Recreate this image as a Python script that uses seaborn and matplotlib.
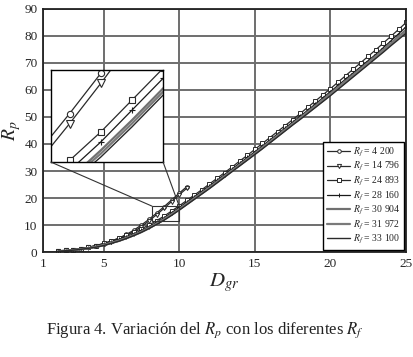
import matplotlib
matplotlib.use("Agg")
import matplotlib.pyplot as plt
import seaborn as sns
from matplotlib.patches import Rectangle, ConnectionPatch

# ==========================================================
# Data
# ==========================================================

d_gr_short = [2.0, 2.5, 3.0, 3.5, 4.0, 4.5, 5.0, 5.5, 6.0, 6.5, 7.0, 7.5,
              8.0, 8.5, 9.0, 9.5, 10.0, 10.5]

d_gr_long = [2.0, 2.5, 3.0, 3.5, 4.0, 4.5, 5.0, 5.5, 6.0, 6.5, 7.0, 7.5,
             8.0, 8.5, 9.0, 9.5, 10.0, 10.5, 11.0, 11.5, 12.0, 12.5, 13.0,
             13.5, 14.0, 14.5, 15.0, 15.5, 16.0, 16.5, 17.0, 17.5, 18.0,
             18.5, 19.0, 19.5, 20.0, 20.5, 21.0, 21.5, 22.0, 22.5, 23.0,
             23.5, 24.0, 24.5, 25.0]

rp_4200 = [0.3, 0.6, 0.9, 1.3, 1.8, 2.4, 3.1, 4.0, 5.1, 6.5, 8.1, 10.0,
           12.1, 14.4, 16.8, 19.3, 21.8, 24.2]

rp_14796 = [0.3, 0.6, 0.9, 1.3, 1.7, 2.3, 3.0, 3.8, 4.8, 6.1, 7.6, 9.4,
            11.5, 13.8, 16.2, 18.7, 21.2, 23.6]

rp_24893 = [0.3, 0.6, 0.9, 1.3, 1.8, 2.4, 3.2, 4.1, 5.1, 6.2, 7.4, 8.6,
            10.0, 11.6, 13.3, 15.2, 17.1, 19.1, 21.1, 23.1, 25.2, 27.3, 29.4,
            31.5, 33.7, 35.8, 38.0, 40.2, 42.4, 44.6, 46.8, 49.0, 51.3,
            53.6, 55.9, 58.2, 60.5, 62.9, 65.3, 67.7, 70.1, 72.5, 74.9,
            77.4, 79.9, 82.4, 85.0]

rp_28160 = [0.3, 0.5, 0.8, 1.2, 1.6, 2.2, 3.0, 3.8, 4.7, 5.7, 6.8, 8.0,
            9.4, 11.0, 12.7, 14.6, 16.5, 18.5, 20.5, 22.5, 24.5, 26.6, 28.7,
            30.8, 32.9, 35.0, 37.1, 39.3, 41.5, 43.7, 45.9, 48.1, 50.3,
            52.5, 54.8, 57.1, 59.4, 61.7, 64.0, 66.3, 68.6, 70.9, 73.2,
            75.7, 78.2, 80.8, 83.4]

rp_30904 = [0.3, 0.5, 0.7, 1.0, 1.4, 1.9, 2.6, 3.4, 4.2, 5.2, 6.3, 7.5,
            8.9, 10.5, 12.2, 14.0, 15.9, 17.9, 19.9, 21.9, 23.9, 26.0, 28.1,
            30.2, 32.3, 34.4, 36.5, 38.7, 40.9, 43.1, 45.3, 47.5, 49.7,
            51.9, 54.1, 56.4, 58.7, 61.0, 63.3, 65.6, 67.9, 70.2, 72.5,
            74.9, 77.3, 79.8, 82.3]

rp_31972 = [0.3, 0.5, 0.7, 1.0, 1.4, 1.9, 2.5, 3.3, 4.1, 5.1, 6.2, 7.4,
            8.8, 10.4, 12.0, 13.8, 15.7, 17.7, 19.7, 21.7, 23.7, 25.8, 27.9,
            30.0, 32.1, 34.2, 36.3, 38.5, 40.7, 42.9, 45.1, 47.3, 49.4,
            51.6, 53.8, 56.0, 58.3, 60.6, 62.9, 65.2, 67.5, 69.8, 72.1,
            74.5, 76.9, 79.3, 81.7]

rp_33100 = [0.3, 0.5, 0.7, 1.0, 1.4, 1.8, 2.4, 3.2, 4.0, 5.0, 6.1, 7.3,
            8.7, 10.2, 11.8, 13.6, 15.5, 17.5, 19.5, 21.5, 23.5, 25.6, 27.7,
            29.8, 31.9, 34.0, 36.1, 38.2, 40.4, 42.6, 44.8, 47.0, 49.1,
            51.3, 53.5, 55.7, 57.9, 60.2, 62.5, 64.8, 67.1, 69.4, 71.7,
            74.0, 76.4, 78.7, 81.0]

rf_labels = ["4 200", "14 796", "24 893", "28 160", "30 904", "31 972", "33 100"]

x_ticks = [1, 5, 10, 15, 20, 25]
y_ticks = [0, 10, 20, 30, 40, 50, 60, 70, 80, 90]

# zoom window shown in the inset
zoom_x = (8.2, 10.0)
zoom_y = (11.5, 17.0)

# ==========================================================
# Style
# ==========================================================

sns.set_theme(style="white")
plt.rcParams['font.family'] = ['Liberation Serif', 'DejaVu Serif']
plt.rcParams['mathtext.fontset'] = 'stix'

# (x, y, marker, main size, inset size, color, linewidth)
series = [
    (d_gr_short, rp_4200, "o", 2.6, 4.5, "#2a2a2a", 0.9),
    (d_gr_short, rp_14796, "v", 3.0, 5.5, "#2a2a2a", 0.9),
    (d_gr_long, rp_24893, "s", 2.6, 5.0, "#2a2a2a", 0.9),
    (d_gr_long, rp_28160, "+", 3.0, 4.0, "#1a1a1a", 0.9),
    (d_gr_long, rp_30904, "", 0, 0, "#707070", 1.6),
    (d_gr_long, rp_31972, "", 0, 0, "#7a7a7a", 1.6),
    (d_gr_long, rp_33100, "", 0, 0, "#2a2a2a", 1.0),
]

fig = plt.figure(figsize=(4.14, 3.57), dpi=100)
ax = fig.add_axes([0.104, 0.294, 0.877, 0.681])

for (xs, ys, mk, ms, ms_in, col, lw), lab in zip(series, rf_labels):
    sns.lineplot(
        x=xs, y=ys, ax=ax, sort=False, estimator=None,
        marker=mk if mk else None, markersize=ms,
        markerfacecolor="white", markeredgecolor=col, mew=0.7,
        color=col, lw=lw, label=r"$R_f$ = " + lab
    )

ax.set_xlim(1, 25)
ax.set_ylim(0, 90)
ax.set_xticks(x_ticks)
ax.set_yticks(y_ticks)
ax.grid(True, color="#6e6e6e", lw=1.4)
ax.set_axisbelow(True)
ax.tick_params(length=0, labelsize=9.5, pad=4)

for sp in ax.spines.values():
    sp.set_color("#222222")
    sp.set_linewidth(1.3)

ax.set_xlabel(r"$D_{gr}$", fontsize=15, labelpad=1)
ax.set_ylabel(r"$R_p$", fontsize=14, labelpad=1)

leg = ax.legend(
    loc="lower right", fontsize=7, frameon=True, fancybox=False,
    edgecolor="black", framealpha=1, handlelength=2.4,
    labelspacing=0.15, borderpad=0.35, handletextpad=0.25,
    borderaxespad=0.25
)
leg.get_frame().set_linewidth(1.0)

# box around zoomed region
ax.add_patch(Rectangle((zoom_x[0], zoom_y[0]), zoom_x[1] - zoom_x[0],
                       zoom_y[1] - zoom_y[0], fill=False, ec="#333333",
                       lw=0.8, zorder=5))

# ==========================================================
# Inset
# ==========================================================

axins = fig.add_axes([0.123, 0.546, 0.271, 0.258])
axins.set_facecolor("white")

for (xs, ys, mk, ms, ms_in, col, lw), lab in zip(series, rf_labels):
    sns.lineplot(
        x=xs, y=ys, ax=axins, sort=False, estimator=None,
        marker=mk if mk else None, markersize=ms_in,
        markerfacecolor="white", markeredgecolor=col, mew=0.8,
        color=col, lw=lw, legend=False
    )

axins.set_xlim(*zoom_x)
axins.set_ylim(*zoom_y)
axins.set_xticks([])
axins.set_yticks([])
axins.set_xlabel("")
axins.set_ylabel("")
for sp in axins.spines.values():
    sp.set_color("black")
    sp.set_linewidth(1.0)

for cx, rx in [(0, zoom_x[0]), (1, zoom_x[1])]:
    con = ConnectionPatch(xyA=(cx, 0), coordsA=axins.transAxes,
                          xyB=(rx, zoom_y[1]), coordsB=ax.transData,
                          color="#333333", lw=0.8)
    fig.add_artist(con)

# ==========================================================
# Caption
# ==========================================================

fig.text(0.495, 0.065,
         r"Figura 4. Variación del $R_p$ con los diferentes $R_f$",
         ha="center", fontsize=12, color="#222222")

fig.savefig("out.png", dpi=100)
